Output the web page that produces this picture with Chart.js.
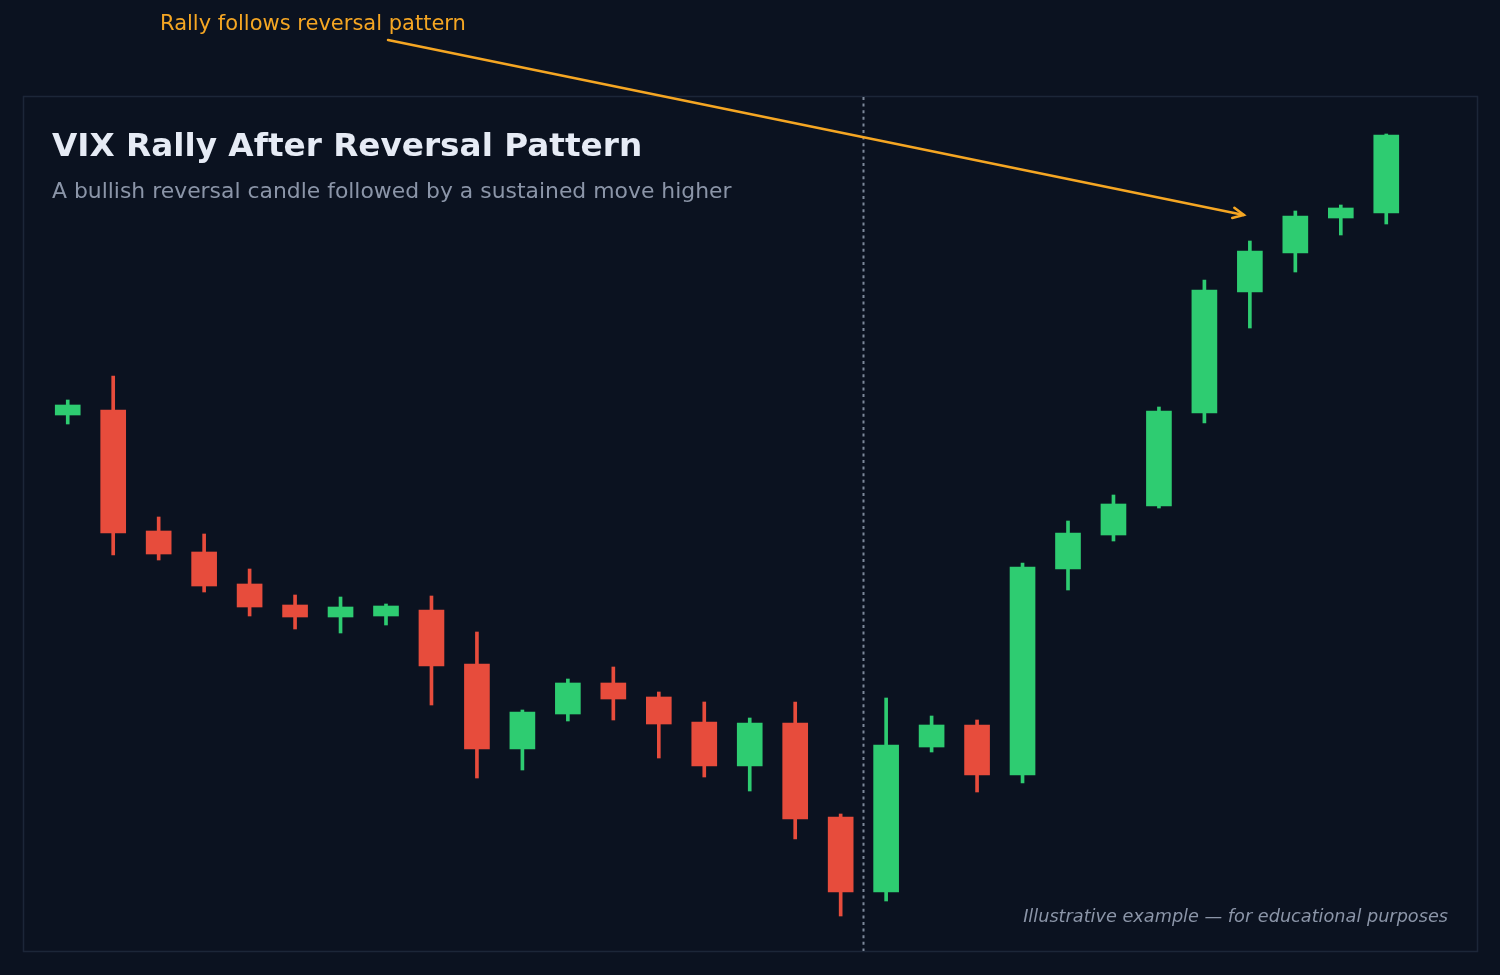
<!DOCTYPE html>
<html>
<head>
<meta charset="utf-8">
<script src="https://cdn.jsdelivr.net/npm/chart.js@4.4.1/dist/chart.umd.min.js"></script>
<style>
  html, body { margin: 0; padding: 0; background: #0b1220; }
  #wrap { width: 1500px; height: 975px; position: relative; }
</style>
</head>
<body>
<div id="wrap"><canvas id="chart"></canvas></div>
<script>
// daily VIX candles (illustrative)
const days = Array.from({length: 30}, (_, i) => 'D' + (i + 1));
const opens  = [22.70, 22.80, 20.38, 19.96, 19.32, 18.90, 18.66, 18.68, 18.80, 17.72,
                16.02, 16.72, 17.34, 17.06, 16.56, 15.68, 16.54, 14.66, 13.16, 16.06,
                16.50, 15.50, 19.62, 20.30, 20.88, 22.74, 25.16, 25.94, 26.64, 26.74];
const highs  = [23.00, 23.48, 20.66, 20.32, 19.62, 19.10, 19.06, 18.92, 19.08, 18.36,
                16.80, 17.42, 17.66, 17.16, 16.96, 16.64, 16.96, 14.72, 17.04, 16.68,
                16.60, 19.74, 20.58, 21.10, 22.86, 25.40, 26.18, 26.78, 26.90, 28.32];
const lows   = [22.52, 19.90, 19.80, 19.16, 18.68, 18.42, 18.34, 18.50, 16.90, 15.44,
                15.60, 16.58, 16.60, 15.84, 15.46, 15.18, 14.22, 12.68, 12.98, 15.96,
                15.16, 15.34, 19.20, 20.18, 20.84, 22.54, 24.44, 25.56, 26.30, 26.52];
const closes = [22.90, 20.34, 19.92, 19.28, 18.86, 18.66, 18.86, 18.88, 17.68, 16.02,
                16.76, 17.34, 17.02, 16.52, 15.68, 16.54, 14.62, 13.16, 16.10, 16.50,
                15.50, 19.66, 20.34, 20.92, 22.78, 25.20, 25.98, 26.68, 26.84, 28.30];

const reversalIndex = 18;   // bullish reversal candle
const arrowTarget = { index: 26, value: 26.70 };

const UP = '#2ecc71', DOWN = '#e74c3c';
const colors = opens.map((o, i) => closes[i] >= o ? UP : DOWN);
const bodies = opens.map((o, i) => [o, closes[i]]);
const wicks = lows.map((l, i) => [l, highs[i]]);

const FONT = '"DejaVu Sans", sans-serif';

const decor = {
  id: 'decor',
  beforeDraw(chart) {
    const ctx = chart.ctx;
    ctx.save();
    ctx.fillStyle = '#0b1220';
    ctx.fillRect(0, 0, chart.width, chart.height);
    // panel
    ctx.strokeStyle = '#1c2638';
    ctx.lineWidth = 1.5;
    ctx.strokeRect(23.5, 96.5, 1454, 855);
    // reversal marker
    const xs = chart.scales.x;
    const xm = (xs.getPixelForValue(reversalIndex - 1) + xs.getPixelForValue(reversalIndex)) / 2;
    ctx.strokeStyle = '#7d8799';
    ctx.lineWidth = 2;
    ctx.setLineDash([3, 3.6]);
    ctx.beginPath();
    ctx.moveTo(Math.round(xm) + 0.5, 97);
    ctx.lineTo(Math.round(xm) + 0.5, 951);
    ctx.stroke();
    ctx.setLineDash([]);
    // titles
    ctx.fillStyle = '#e6ebf5';
    ctx.font = 'bold 32.7px ' + FONT;
    ctx.textBaseline = 'alphabetic';
    ctx.fillText('VIX Rally After Reversal Pattern', 52, 156);
    ctx.fillStyle = '#8b95a8';
    ctx.font = '21.9px ' + FONT;
    ctx.fillText('A bullish reversal candle followed by a sustained move higher', 52, 198);
    ctx.font = 'italic 17.7px ' + FONT;
    ctx.textAlign = 'right';
    ctx.fillText('Illustrative example \u2014 for educational purposes', 1448, 922);
    ctx.restore();
  },
  afterDraw(chart) {
    const ctx = chart.ctx;
    const tx = chart.scales.x.getPixelForValue(arrowTarget.index) - 6;
    const ty = chart.scales.y.getPixelForValue(arrowTarget.value);
    const sx = 388, sy = 40;
    ctx.save();
    ctx.fillStyle = '#f5a623';
    ctx.font = '21px ' + FONT;
    ctx.textBaseline = 'alphabetic';
    ctx.fillText('Rally follows reversal pattern', 160, 30);
    ctx.strokeStyle = '#f5a623';
    ctx.lineWidth = 2.5;
    ctx.lineCap = 'round';
    ctx.beginPath();
    ctx.moveTo(sx, sy);
    ctx.lineTo(tx, ty);
    ctx.stroke();
    const ang = Math.atan2(ty - sy, tx - sx);
    const h = 12;
    ctx.beginPath();
    ctx.moveTo(tx - h * Math.cos(ang - 0.45), ty - h * Math.sin(ang - 0.45));
    ctx.lineTo(tx, ty);
    ctx.lineTo(tx - h * Math.cos(ang + 0.45), ty - h * Math.sin(ang + 0.45));
    ctx.stroke();
    ctx.restore();
  }
};

new Chart(document.getElementById('chart'), {
  type: 'bar',
  data: {
    labels: days,
    datasets: [
      { label: 'Body', data: bodies, backgroundColor: colors, barThickness: 25, borderWidth: 0, grouped: false, borderSkipped: false },
      { label: 'Wick', data: wicks, backgroundColor: colors, barThickness: 3, borderWidth: 0, grouped: false, borderSkipped: false }
    ]
  },
  options: {
    responsive: true,
    maintainAspectRatio: false,
    animation: false,
    layout: { padding: { left: 45, right: 91, top: 100, bottom: 25 } },
    plugins: { legend: { display: false }, tooltip: { enabled: false }, title: { display: false } },
    scales: {
      x: { display: false, offset: true, grid: { display: false } },
      y: { display: false, min: 12, max: 29 }
    }
  },
  plugins: [decor]
});
</script>
</body>
</html>
